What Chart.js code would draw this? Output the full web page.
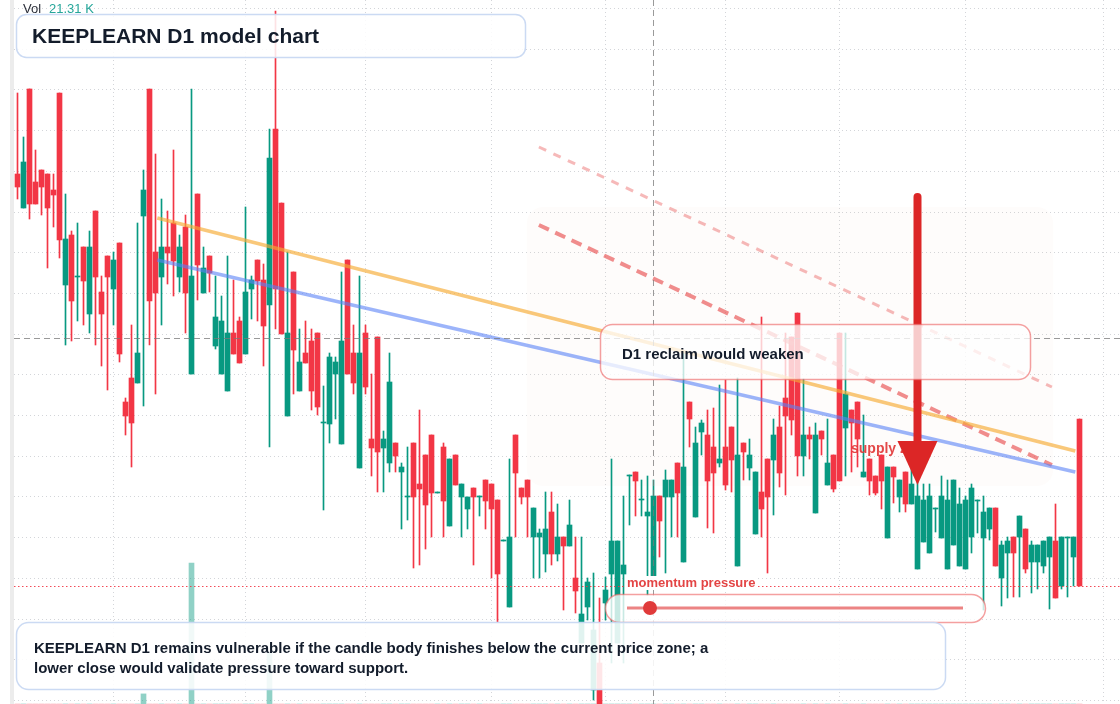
<!DOCTYPE html>
<html>
<head>
<meta charset="utf-8">
<title>KEEPLEARN D1 model chart</title>
<script src="https://cdn.jsdelivr.net/npm/chart.js@4.4.1/dist/chart.umd.min.js"></script>
<style>
  html, body { margin: 0; padding: 0; background: #fff; }
  #wrap { width: 1120px; height: 704px; }
</style>
</head>
<body>
<div id="wrap"><canvas id="chart" width="1120" height="704"></canvas></div>
<script>
// === Candle data (one entry per daily bar) ===
const opens = [
  62.6, 59.2, 71.1, 61.8, 63.0, 62.6, 61.0, 70.7, 51.5, 56.5, 52.3, 55.3, 48.6, 58.9, 50.8, 54.4, 51.1, 55.7, 39.8, 42.2,
  41.7, 58.4, 71.1, 54.8, 52.3, 55.3, 57.7, 52.3, 57.3, 42.6, 60.6, 50.7, 54.4, 45.4, 42.6, 40.9, 46.7, 47.9, 44.6, 51.1,
  54.0, 52.0, 49.5, 67.1, 59.7, 38.4, 52.8, 40.9, 44.7, 45.9, 46.7, 37.7, 37.6, 42.6, 35.6, 54.0, 44.7, 33.2, 46.7, 36.1,
  46.3, 35.2, 33.7, 35.7, 32.8, 30.3, 35.7, 31.6, 34.5, 36.5, 30.7, 35.3, 27.4, 34.5, 30.3, 29.1, 31.2, 30.3, 32.0, 31.6,
  30.0, 25.9, 19.3, 36.5, 31.2, 32.0, 26.3, 26.3, 24.6, 28.8, 24.6, 26.3, 25.4, 22.2, 15.7, 19.3, 11.0, 13.7, 19.7, 22.6,
  15.7, 22.6, 32.4, 32.8, 30.0, 28.4, 22.0, 30.4, 30.3, 30.3, 33.7, 23.8, 39.8, 28.3, 36.8, 36.5, 35.3, 33.7, 35.3, 37.3,
  23.4, 35.7, 33.2, 26.6, 30.8, 34.1, 34.0, 37.3, 40.2, 46.3, 48.7, 34.4, 36.5, 28.7, 36.9, 31.5, 34.5, 46.7, 37.2, 39.0,
  39.8, 32.3, 34.1, 32.4, 34.5, 26.2, 33.3, 30.3, 32.8, 29.6, 23.1, 25.8, 24.7, 29.1, 26.2, 23.1, 25.5, 23.4, 23.1, 26.3,
  29.9, 26.2, 27.1, 29.2, 22.2, 24.7, 26.3, 26.3, 27.1, 23.8, 23.8, 23.4, 24.3, 25.9, 21.4, 26.2, 24.3, 38.1
];
const highs = [
  70.7, 66.3, 71.1, 65.0, 63.0, 62.6, 62.6, 70.7, 60.6, 56.9, 57.7, 55.3, 56.9, 58.9, 52.4, 54.4, 54.8, 55.7, 40.2, 47.5,
  57.7, 63.0, 71.1, 64.6, 60.1, 58.9, 65.0, 56.5, 58.5, 71.1, 60.6, 55.3, 54.4, 52.4, 50.4, 54.4, 52.0, 48.3, 59.3, 52.4,
  54.0, 53.6, 67.1, 78.9, 59.7, 54.8, 52.8, 47.1, 47.9, 47.1, 46.7, 41.4, 44.7, 44.3, 52.8, 54.0, 47.5, 52.4, 47.5, 42.6,
  46.3, 36.9, 44.7, 35.7, 33.7, 35.3, 35.7, 39.0, 34.5, 36.5, 30.8, 35.7, 34.1, 34.5, 31.6, 30.3, 31.2, 30.4, 32.0, 31.6,
  30.0, 26.0, 34.1, 36.5, 31.2, 32.0, 29.2, 27.1, 30.8, 30.8, 29.6, 26.3, 30.0, 26.3, 26.3, 22.2, 22.7, 20.2, 22.3, 34.1,
  25.9, 30.4, 32.5, 32.8, 32.0, 32.4, 32.0, 30.4, 33.0, 32.0, 33.7, 44.8, 39.8, 37.3, 38.0, 39.0, 39.2, 41.5, 42.0, 37.3,
  42.2, 35.7, 36.1, 32.8, 48.3, 34.1, 38.1, 39.4, 46.7, 46.3, 48.7, 42.1, 37.3, 37.7, 36.9, 38.1, 34.5, 46.7, 46.7, 39.0,
  39.8, 38.5, 34.1, 32.4, 34.5, 33.3, 33.3, 32.0, 32.8, 33.2, 32.0, 31.6, 31.6, 29.2, 32.4, 32.0, 32.0, 31.2, 30.4, 31.6,
  30.0, 30.4, 29.2, 29.2, 25.9, 26.3, 26.3, 28.4, 27.1, 25.9, 25.5, 25.9, 26.3, 29.6, 26.3, 26.3, 26.3, 38.1
];
const lows = [
  60.1, 59.2, 58.1, 59.6, 58.5, 53.2, 57.3, 54.2, 45.5, 45.9, 47.9, 47.5, 46.7, 45.5, 43.4, 41.0, 47.5, 43.8, 36.5, 33.3,
  41.7, 39.4, 45.5, 40.6, 47.5, 51.6, 50.4, 50.8, 46.7, 42.6, 50.0, 50.7, 50.8, 45.1, 42.6, 40.9, 44.6, 43.7, 44.6, 48.1,
  47.9, 43.4, 35.3, 47.1, 46.6, 38.4, 40.6, 40.9, 43.7, 39.0, 38.5, 29.0, 35.7, 38.1, 35.6, 42.6, 40.6, 33.2, 40.6, 32.4,
  30.8, 30.8, 32.8, 32.8, 27.1, 28.0, 23.2, 23.5, 25.1, 26.3, 30.7, 26.3, 27.4, 31.5, 26.3, 27.1, 23.5, 28.4, 27.1, 22.2,
  17.8, 25.9, 19.3, 26.3, 29.6, 26.3, 22.2, 22.2, 22.8, 23.5, 23.9, 19.0, 25.4, 18.7, 15.7, 18.0, 10.0, 8.8, 18.0, 13.7,
  15.7, 13.7, 27.5, 28.4, 28.4, 20.5, 22.0, 24.3, 22.7, 26.3, 26.3, 23.8, 35.3, 28.3, 34.5, 27.2, 26.7, 33.3, 31.0, 30.8,
  23.4, 32.0, 32.0, 26.6, 26.3, 22.7, 28.5, 31.3, 30.5, 36.5, 32.4, 32.4, 34.1, 28.7, 34.5, 31.5, 30.8, 31.9, 32.4, 32.8,
  33.3, 32.3, 30.5, 30.5, 29.1, 26.2, 29.7, 28.8, 28.8, 29.6, 23.1, 25.8, 24.7, 26.8, 26.2, 23.1, 25.5, 23.4, 23.1, 24.7,
  26.7, 19.0, 26.0, 23.4, 19.4, 20.2, 20.3, 20.3, 22.7, 20.7, 21.1, 22.7, 19.1, 20.2, 21.1, 20.3, 21.4, 21.4
];
const closes = [
  61.3, 63.8, 59.6, 59.6, 61.3, 59.2, 60.5, 56.0, 56.1, 49.9, 52.4, 51.9, 55.3, 52.3, 48.6, 52.3, 54.0, 44.6, 38.4, 37.7,
  44.7, 61.0, 49.9, 50.7, 55.3, 54.7, 53.9, 55.3, 50.7, 52.4, 53.5, 53.2, 52.7, 48.3, 47.9, 46.7, 44.6, 43.7, 50.8, 52.0,
  51.9, 47.4, 64.2, 51.1, 46.6, 46.7, 45.0, 43.8, 43.7, 40.9, 39.3, 37.8, 44.3, 43.8, 45.9, 42.6, 41.7, 44.7, 41.3, 35.2,
  34.8, 36.1, 41.8, 34.4, 33.3, 30.4, 30.3, 31.1, 29.5, 30.7, 30.8, 29.9, 34.1, 31.5, 31.6, 30.3, 30.3, 30.4, 29.9, 29.1,
  22.6, 26.0, 26.3, 32.7, 30.3, 30.3, 29.2, 26.7, 27.1, 24.6, 26.3, 25.4, 27.5, 20.9, 18.6, 21.8, 17.0, 9.6, 21.0, 25.9,
  25.9, 23.5, 32.5, 31.9, 30.1, 28.8, 30.4, 27.9, 32.0, 32.0, 30.7, 33.3, 38.1, 35.7, 37.7, 31.9, 32.7, 34.1, 31.5, 34.0,
  34.5, 34.8, 34.5, 32.8, 29.1, 30.3, 36.5, 32.7, 38.4, 38.0, 34.4, 36.5, 36.1, 36.5, 36.1, 33.7, 31.1, 31.9, 40.6, 37.7,
  36.1, 32.8, 31.9, 30.7, 31.9, 33.3, 32.3, 32.0, 29.6, 31.6, 30.4, 30.0, 30.4, 29.2, 30.4, 30.0, 32.0, 29.6, 30.0, 31.2,
  30.0, 28.8, 29.2, 23.4, 25.5, 25.9, 24.7, 28.4, 23.1, 25.5, 25.5, 25.9, 26.3, 20.2, 26.3, 26.3, 26.3, 21.4
];
// volume in thousands; only three bars rise above the floor
const volumes = [
  0, 0, 0, 0, 0, 0, 0, 0, 0, 0, 0, 0, 0, 0, 0, 0, 0, 0, 0, 0,
  0, 4.2, 0, 0, 0, 0, 0, 0, 0, 58.6, 0, 0, 0, 0, 0, 0, 0, 0, 0, 0,
  0, 0, 21.31, 0, 0, 0, 0, 0, 0, 0, 0, 0, 0, 0, 0, 0, 0, 0, 0, 0,
  0, 0, 0, 0, 0, 0, 0, 0, 0, 0, 0, 0, 0, 0, 0, 0, 0, 0, 0, 0,
  0, 0, 0, 0, 0, 0, 0, 0, 0, 0, 0, 0, 0, 0, 0, 0, 0, 0, 0, 0,
  0, 0, 0, 0, 0, 0, 0, 0, 0, 0, 0, 0, 0, 0, 0, 0, 0, 0, 0, 0,
  0, 0, 0, 0, 0, 0, 0, 0, 0, 0, 0, 0, 0, 0, 0, 0, 0, 0, 0, 0,
  0, 0, 0, 0, 0, 0, 0, 0, 0, 0, 0, 0, 0, 0, 0, 0, 0, 0, 0, 0,
  0, 0, 0, 0, 0, 0, 0, 0, 0, 0, 0, 0, 0, 0, 0, 0, 0, 0
];

// === Grid / crosshair ===
const timeGrid = [16, 38, 58, 79, 98, 118, 137, 158, 181];
const priceGrid = [79.15, 75.08, 71.01, 66.94, 62.87, 58.80, 54.73, 50.66, 46.59, 42.52, 38.45, 34.38, 30.31, 26.24, 22.17, 18.10, 14.03, 9.96];
const crossIdx = 106;
const crossPrice = 46.2;
const volLabel = "21.31 K";

// === Drawn lines (bar index, price) ===
const orangeTrend = [{ x: 23.3, y: 58.2 }, { x: 176.3, y: 34.9 }];
const blueTrend = [{ x: 23.3, y: 54.0 }, { x: 176.3, y: 32.8 }];
const channelLow = [{ x: 86.9, y: 57.5 }, { x: 172.4, y: 33.5 }];
const channelHigh = [{ x: 86.9, y: 65.3 }, { x: 172.4, y: 41.3 }];
const supplyZone = { from: 84.9, to: 172.6, top: 59.3, bottom: 31.4 };
const arrowAt = { x: 150, from: 60.3, to: 31.5 };

const UP = "#089981";
const DOWN = "#f23645";

function roundBox(ctx, x, y, w, h, r, fill, stroke, lw) {
  ctx.beginPath();
  ctx.roundRect(x, y, w, h, r);
  if (fill) {
    ctx.fillStyle = fill;
    ctx.fill();
  }
  if (stroke) {
    ctx.lineWidth = lw || 1.5;
    ctx.strokeStyle = stroke;
    ctx.stroke();
  }
}

// === Overlay plugin: zone, crosshair, notes ===
const overlay = {
  id: "overlay",
  beforeDatasetsDraw(chart) {
    const { ctx, chartArea, scales } = chart;
    const x = scales.x, y = scales.y;
    ctx.save();
    ctx.fillStyle = "#ececec";
    ctx.fillRect(chartArea.left - 4, 0, 4, chart.height);

    const zx = x.getPixelForValue(supplyZone.from);
    const zy = y.getPixelForValue(supplyZone.top);
    roundBox(ctx, zx, zy, x.getPixelForValue(supplyZone.to) - zx,
      y.getPixelForValue(supplyZone.bottom) - zy, 16, "rgba(240,205,180,0.05)");
    ctx.restore();
  },
  afterDatasetsDraw(chart) {
    const { ctx, chartArea, scales } = chart;
    const x = scales.x, y = scales.y;
    ctx.save();

    // crosshair
    ctx.strokeStyle = "rgba(120,120,120,0.75)";
    ctx.lineWidth = 1;
    ctx.setLineDash([6, 4]);
    const cx = Math.round(x.getPixelForValue(crossIdx)) + 0.5;
    const cy = Math.round(y.getPixelForValue(crossPrice)) + 0.5;
    ctx.beginPath();
    ctx.moveTo(cx, chartArea.top);
    ctx.lineTo(cx, chartArea.bottom);
    ctx.moveTo(chartArea.left, cy);
    ctx.lineTo(chartArea.right, cy);
    ctx.stroke();

    // last price dotted line
    const py = Math.round(y.getPixelForValue(closes[closes.length - 1])) + 0.5;
    ctx.strokeStyle = "rgba(242,54,69,0.9)";
    ctx.setLineDash([1.5, 2.5]);
    ctx.beginPath();
    ctx.moveTo(chartArea.left, py);
    ctx.lineTo(chartArea.right, py);
    ctx.stroke();
    ctx.setLineDash([]);

    // supply zone label
    ctx.font = "bold 14px 'Liberation Sans', Arial, sans-serif";
    ctx.fillStyle = "rgba(226,58,58,0.92)";
    ctx.textBaseline = "alphabetic";
    ctx.fillText("supply zone", 851, 453);

    // down arrow
    const ax = x.getPixelForValue(arrowAt.x);
    const ay1 = y.getPixelForValue(arrowAt.from);
    const ay2 = y.getPixelForValue(arrowAt.to);
    ctx.strokeStyle = "#dc2626";
    ctx.fillStyle = "#dc2626";
    ctx.lineWidth = 8;
    ctx.lineCap = "round";
    ctx.beginPath();
    ctx.moveTo(ax, ay1);
    ctx.lineTo(ax, ay2 - 40);
    ctx.stroke();
    ctx.beginPath();
    ctx.moveTo(ax - 20, ay2 - 44);
    ctx.lineTo(ax + 20, ay2 - 44);
    ctx.lineTo(ax, ay2);
    ctx.closePath();
    ctx.fill();
    ctx.lineCap = "butt";

    // title box
    roundBox(ctx, 16.5, 14.5, 509, 43, 10, "rgba(255,255,255,0.86)", "rgba(200,216,242,0.95)", 1.5);
    ctx.fillStyle = "#131c2b";
    ctx.font = "bold 21px 'Liberation Sans', Arial, sans-serif";
    ctx.fillText("KEEPLEARN D1 model chart", 32, 43);

    // volume legend
    ctx.font = "13px 'Liberation Sans', Arial, sans-serif";
    ctx.fillStyle = "#2a2e39";
    ctx.fillText("Vol", 23, 13);
    ctx.fillStyle = "#26a69a";
    ctx.fillText(volLabel, 49, 13);

    // reclaim box
    roundBox(ctx, 600.5, 324.5, 430, 55, 12, "rgba(255,255,255,0.76)", "rgba(236,96,96,0.6)", 1.5);
    ctx.fillStyle = "#131c2b";
    ctx.font = "bold 15px 'Liberation Sans', Arial, sans-serif";
    ctx.fillText("D1 reclaim would weaken", 622, 359);

    // momentum pill
    ctx.font = "bold 13px 'Liberation Sans', Arial, sans-serif";
    const label = "momentum pressure";
    const lw = ctx.measureText(label).width;
    ctx.fillStyle = "#fff";
    ctx.fillRect(625, 576, lw + 4, 14);
    ctx.fillStyle = "rgba(226,58,58,0.95)";
    ctx.fillText(label, 627, 587);
    roundBox(ctx, 605.5, 594.5, 380, 28, 14, "rgba(255,255,255,0.78)", "rgba(236,96,96,0.6)", 1.5);
    ctx.strokeStyle = "rgba(228,80,80,0.7)";
    ctx.lineWidth = 3;
    ctx.beginPath();
    ctx.moveTo(627, 608);
    ctx.lineTo(963, 608);
    ctx.stroke();
    ctx.fillStyle = "#e03a3a";
    ctx.beginPath();
    ctx.arc(650, 608, 7, 0, Math.PI * 2);
    ctx.fill();

    // bottom note
    roundBox(ctx, 16.5, 622.5, 929, 67, 12, "rgba(255,255,255,0.88)", "rgba(200,216,242,0.95)", 1.5);
    ctx.fillStyle = "#131c2b";
    ctx.font = "bold 15px 'Liberation Sans', Arial, sans-serif";
    ctx.fillText("KEEPLEARN D1 remains vulnerable if the candle body finishes below the current price zone; a", 34, 653);
    ctx.fillText("lower close would validate pressure toward support.", 34, 673);

    ctx.restore();
  },
};

document.addEventListener("DOMContentLoaded", () => {
  const idx = opens.map((_, i) => i);
  const isUp = (i) => closes[i] >= opens[i];

  const gridStyle = {
    color: "#d3d5d9",
    drawTicks: false,
    offset: false,
  };

  const ctx = document.getElementById("chart").getContext("2d");
  new Chart(ctx, {
    type: "bar",
    data: {
      datasets: [
        {
          type: "line",
          data: orangeTrend,
          borderColor: "rgba(246,170,50,0.65)",
          borderWidth: 3.5,
          pointRadius: 0,
          order: 0,
        },
        {
          type: "line",
          data: blueTrend,
          borderColor: "rgba(90,130,246,0.6)",
          borderWidth: 3.5,
          pointRadius: 0,
          order: 0,
        },
        {
          type: "line",
          data: channelLow,
          borderColor: "rgba(232,80,80,0.65)",
          borderWidth: 4,
          borderDash: [11, 7],
          pointRadius: 0,
          order: 0,
        },
        {
          type: "line",
          data: channelHigh,
          borderColor: "rgba(236,100,100,0.45)",
          borderWidth: 3,
          borderDash: [8, 8],
          pointRadius: 0,
          order: 0,
        },
        {
          data: idx.map((i) => ({ x: i, y: [opens[i], closes[i]] })),
          backgroundColor: idx.map((i) => (isUp(i) ? UP : DOWN)),
          barThickness: 5,
          grouped: false,
          order: 1,
        },
        {
          data: idx.map((i) => ({ x: i, y: [lows[i], highs[i]] })),
          backgroundColor: idx.map((i) => (isUp(i) ? UP : DOWN)),
          barThickness: 1,
          grouped: false,
          order: 2,
        },
        {
          data: idx.map((i) => ({ x: i, y: volumes[i] })),
          backgroundColor: idx.map((i) => (isUp(i) ? "rgba(8,153,129,0.45)" : "rgba(242,54,69,0.4)")),
          barThickness: 5,
          grouped: false,
          yAxisID: "yv",
          order: 3,
        },
      ],
    },
    options: {
      responsive: false,
      animation: false,
      devicePixelRatio: 1,
      layout: { padding: { left: 14, right: 0, top: 0, bottom: 0 } },
      plugins: { legend: { display: false }, tooltip: { enabled: false } },
      scales: {
        x: {
          type: "linear",
          min: -0.5833,
          max: 183.75,
          offset: false,
          grid: gridStyle,
          border: { display: false, dash: [1, 3] },
          ticks: { display: false },
          afterBuildTicks: (scale) => {
            scale.ticks = timeGrid.map((v) => ({ value: v }));
          },
        },
        y: {
          type: "linear",
          min: 9.6,
          max: 80,
          grid: gridStyle,
          border: { display: false, dash: [1, 3] },
          ticks: { display: false },
          afterBuildTicks: (scale) => {
            scale.ticks = priceGrid.map((v) => ({ value: v }));
          },
        },
        yv: {
          type: "linear",
          display: false,
          min: 0,
          max: 293,
        },
      },
    },
    plugins: [overlay],
  });
});
</script>
</body>
</html>
